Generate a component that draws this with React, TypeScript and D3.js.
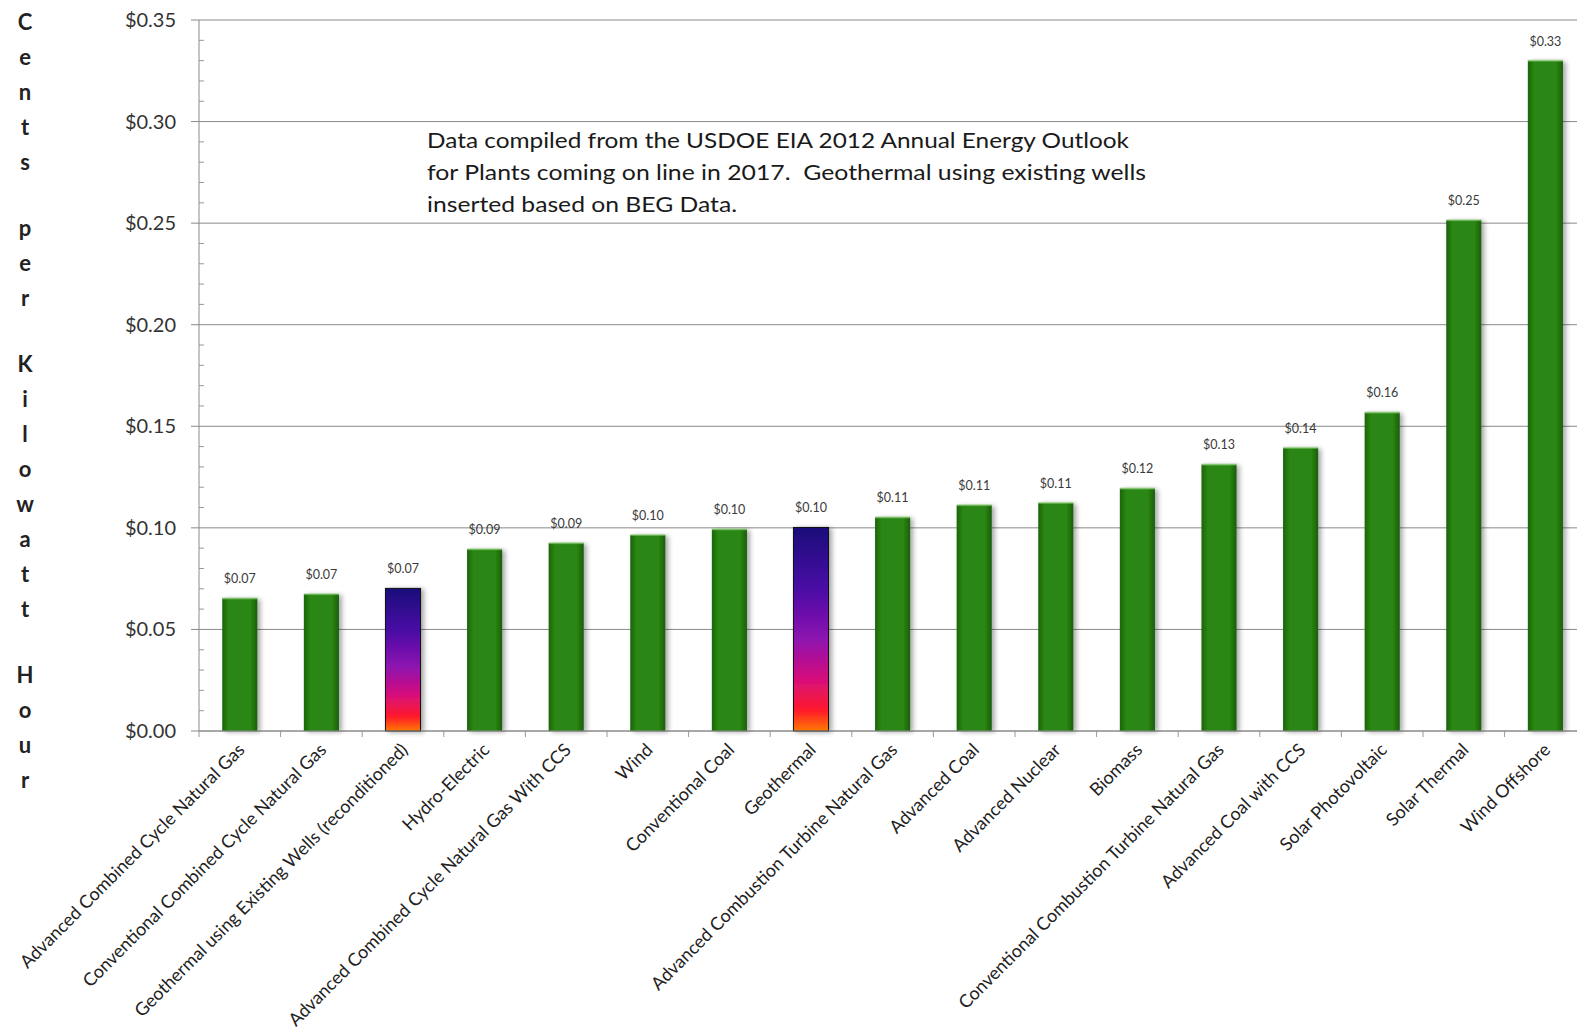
import React from "react";
import * as d3 from "d3";

const categories = [
  "Advanced Combined Cycle Natural Gas",
  "Conventional Combined Cycle Natural Gas",
  "Geothermal using Existing Wells (reconditioned)",
  "Hydro-Electric",
  "Advanced Combined Cycle Natural Gas With CCS",
  "Wind",
  "Conventional Coal",
  "Geothermal",
  "Advanced Combustion Turbine Natural Gas",
  "Advanced Coal",
  "Advanced Nuclear",
  "Biomass",
  "Conventional Combustion Turbine Natural Gas",
  "Advanced Coal with CCS",
  "Solar Photovoltaic",
  "Solar Thermal",
  "Wind Offshore",
];
const costs = [0.0653, 0.0674, 0.0702, 0.0895, 0.0925, 0.0965, 0.0993, 0.1002, 0.1052, 0.1112, 0.1123, 0.1194, 0.1312, 0.1394, 0.1568, 0.2515, 0.33];
const geothermal = [false, false, true, false, false, false, false, true, false, false, false, false, false, false, false, false, false];
const yTicks = [0, 0.05, 0.1, 0.15, 0.2, 0.25, 0.3, 0.35];
const yTitle = "Cents per Kilowatt Hour";
const noteLines = [
  "Data compiled from the USDOE EIA 2012 Annual Energy Outlook",
  "for Plants coming on line in 2017.  Geothermal using existing wells",
  "inserted based on BEG Data.",
];
const noteWidths = [702, 719, 310];

const W = 1577;
const H = 1029;
const FONT = "Lato, 'Liberation Sans', sans-serif";

export default function App() {
  const x = d3.scaleBand<string>().domain(categories).range([199, 199 + 17 * 81.6]).paddingInner(0.57).paddingOuter(0.285);
  const y = d3.scaleLinear().domain([0, 0.35]).range([731, 20]);
  const step = x.step();
  const bw = x.bandwidth();
  const fmt = (v: number) => "$" + d3.format(".2f")(v);
  const minor = d3.range(0, 36).map((i) => i / 100);
  const x0 = 199;
  const xEnd = W;

  const titleChars: { ch: string; yy: number }[] = [];
  let yy = 30;
  yTitle.split("").forEach((ch, i) => {
    if (i > 0) yy += ch === " " ? 31 : 35;
    titleChars.push({ ch, yy });
  });

  return (
    <svg width={W} height={H} style={{ position: "absolute", left: 0, top: 0, background: "#fff" }}>
      <defs>
        <linearGradient id="green" x1="0" x2="1" y1="0" y2="0">
          <stop offset="0" stopColor="#1c640c" />
          <stop offset="0.18" stopColor="#2a8712" />
          <stop offset="0.8" stopColor="#2a8712" />
          <stop offset="1" stopColor="#1a5e0a" />
        </linearGradient>
        <linearGradient id="geo" x1="0" x2="0" y1="0" y2="1">
          <stop offset="0" stopColor="#1a0c7a" />
          <stop offset="0.3" stopColor="#4a10a6" />
          <stop offset="0.55" stopColor="#8e12b0" />
          <stop offset="0.75" stopColor="#d8107a" />
          <stop offset="0.9" stopColor="#ff1a2a" />
          <stop offset="1" stopColor="#ff7a00" />
        </linearGradient>
        <filter id="shadow" x="-30%" y="-5%" width="160%" height="110%">
          <feGaussianBlur in="SourceAlpha" stdDeviation="2.5" />
          <feOffset dx="3" dy="1" result="b" />
          <feComponentTransfer>
            <feFuncA type="linear" slope="0.35" />
          </feComponentTransfer>
          <feMerge>
            <feMergeNode />
            <feMergeNode in="SourceGraphic" />
          </feMerge>
        </filter>
      </defs>

      {yTicks.map((t) => (
        <line key={"g" + t} x1={x0 - 8} x2={xEnd} y1={y(t)} y2={y(t)} stroke="#8a8a8a" strokeWidth={1} />
      ))}
      {minor.map((t, i) =>
        i % 5 !== 0 ? <line key={"m" + i} x1={x0} x2={x0 + 5} y1={y(t)} y2={y(t)} stroke="#999" strokeWidth={1} /> : null
      )}
      <line x1={x0} x2={x0} y1={y(0.35)} y2={y(0)} stroke="#8a8a8a" strokeWidth={1} />
      {categories.map((c, i) => (
        <line key={"xt" + i} x1={x(c)! - (step - bw) / 2} x2={x(c)! - (step - bw) / 2} y1={y(0)} y2={y(0) + 6} stroke="#999" strokeWidth={1} />
      ))}

      {yTicks.map((t) => (
        <text key={"yl" + t} x={176} y={y(t)} dy="0.35em" textAnchor="end" fontFamily={FONT} fontSize={20} fill="#333">
          {fmt(t)}
        </text>
      ))}

      {categories.map((c, i) => (
        <g key={"b" + i}>
          <rect
            x={x(c)}
            y={y(costs[i])}
            width={bw}
            height={y(0) - y(costs[i])}
            fill={geothermal[i] ? "url(#geo)" : "url(#green)"}
            stroke={geothermal[i] ? "#111" : "none"}
            strokeWidth={geothermal[i] ? 1 : 0}
            filter="url(#shadow)"
          />
          {!geothermal[i] && <rect x={x(c)} y={y(costs[i]) - 1} width={bw} height={2} fill="#8fd07a" opacity={0.6} />}
          <text x={x(c)! + bw / 2} y={y(costs[i]) - 15} textAnchor="middle" fontFamily={FONT} fontSize={12.5} fill="#3a3a3a">
            {fmt(costs[i])}
          </text>
        </g>
      ))}

      <line x1={x0} x2={xEnd} y1={y(0)} y2={y(0)} stroke="#8a8a8a" strokeWidth={1} />

      {categories.map((c, i) => {
        const cx = x(c)! + bw / 2 + 6;
        const cy = y(0) + 20;
        return (
          <text key={"xl" + i} transform={`translate(${cx},${cy}) rotate(-45)`} textAnchor="end" fontFamily={FONT} fontSize={18} fill="#222">
            {c}
          </text>
        );
      })}

      {titleChars.map((t, i) =>
        t.ch === " " ? null : (
          <text key={"t" + i} x={25} y={t.yy} textAnchor="middle" fontFamily={FONT} fontWeight="bold" fontSize={22} fill="#222">
            {t.ch}
          </text>
        )
      )}

      {noteLines.map((l, i) => (
        <text
          key={"n" + i}
          x={427}
          y={148 + i * 32}
          fontFamily={FONT}
          fontSize={22}
          fill="#1a1a1a"
          textLength={noteWidths[i]}
          lengthAdjust="spacingAndGlyphs"
          style={{ whiteSpace: "pre" }}
        >
          {l}
        </text>
      ))}
    </svg>
  );
}
